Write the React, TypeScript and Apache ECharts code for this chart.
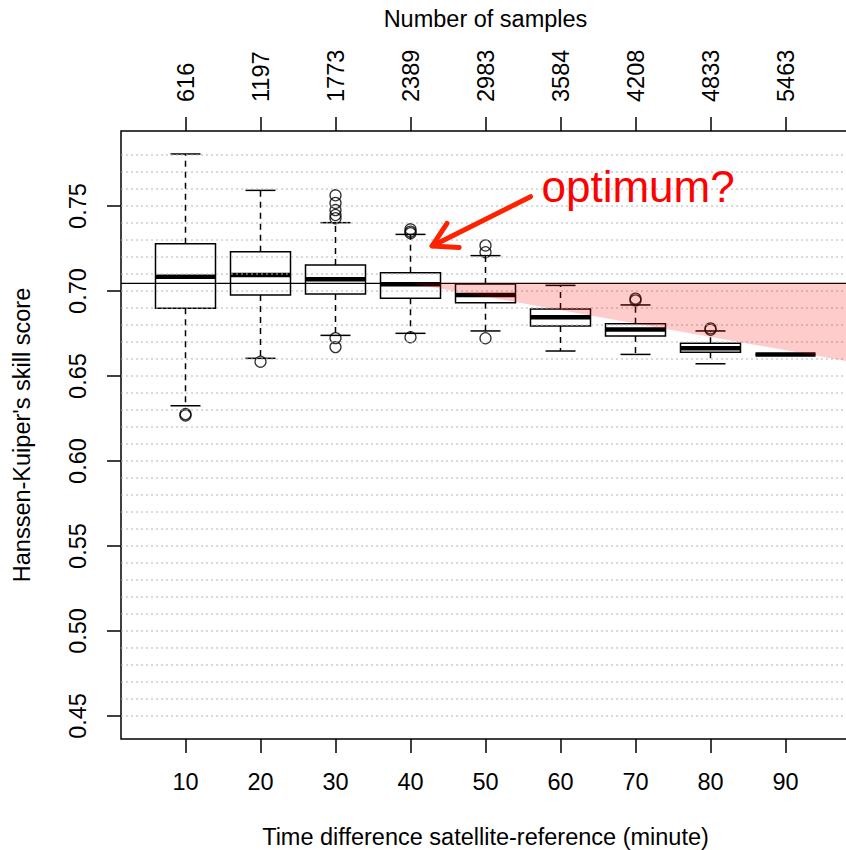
import React, { useEffect, useRef } from "react";
import * as echarts from "echarts";

// ---------------- data ----------------
const categories = ["10", "20", "30", "40", "50", "60", "70", "80", "90"];
const sampleCounts = ["616", "1197", "1773", "2389", "2983", "3584", "4208", "4833", "5463"];
const lowerWhisker = [0.6325, 0.6604, 0.6739, 0.6751, 0.6765, 0.6647, 0.6627, 0.6572, 0.6627];
const lowerQuartile = [0.6898, 0.6976, 0.6982, 0.6957, 0.6931, 0.6794, 0.6735, 0.6639, 0.6627];
const medians = [0.7084, 0.7094, 0.7069, 0.7039, 0.6976, 0.6845, 0.6773, 0.6663, 0.6627];
const upperQuartile = [0.7278, 0.7231, 0.7153, 0.7108, 0.7041, 0.6894, 0.6808, 0.6692, 0.6627];
const upperWhisker = [0.7806, 0.7592, 0.7402, 0.7333, 0.7208, 0.7033, 0.6918, 0.6765, 0.6627];
const outliers = [
  [0.6276, 0.6268],
  [0.6584],
  [0.7563, 0.7518, 0.7476, 0.7447, 0.7428, 0.6723, 0.667],
  [0.7363, 0.7349, 0.7340, 0.6728],
  [0.7268, 0.7228, 0.6722],
  [],
  [0.6955, 0.6945],
  [0.678, 0.6772],
  [],
];
const yTickValues = [0.45, 0.5, 0.55, 0.6, 0.65, 0.7, 0.75];
const gridValues = [
  0.45, 0.46, 0.47, 0.48, 0.49, 0.5, 0.51, 0.52, 0.53, 0.54, 0.55, 0.56, 0.57, 0.58, 0.59,
  0.6, 0.61, 0.62, 0.63, 0.64, 0.65, 0.66, 0.67, 0.68, 0.69, 0.7, 0.71, 0.72, 0.73, 0.74,
  0.75, 0.76, 0.77, 0.78,
];
const referenceLevel = 0.7045;
const shadePoints = [
  [4, 0.7045],
  [10, 0.7045],
  [10, 0.6573],
];
const arrowTail = [5.6, 0.7555];
const arrowTip = [4.289, 0.7265];
const annotationPos = [5.747, 0.7612];
const annotationText = "optimum?";

// ---------------- layout / style ----------------
const X_MIN = 0.14;
const X_MAX = 9.86;
const Y_MIN = 0.43647;
const Y_MAX = 0.79412;
const BOX_HALF = 0.4;
const CAP_HALF = 0.2;
const FONT = "Liberation Sans, Arial, Helvetica, sans-serif";
const FS = 23.5;
const positions = categories.map((_, i) => i + 1);

export default function App() {
  const ref = useRef<HTMLDivElement>(null);

  useEffect(() => {
    if (!ref.current) return;
    const chart = echarts.init(ref.current, undefined, { renderer: "svg" });

    const boxData = positions.map((x, i) => [
      x,
      lowerWhisker[i],
      lowerQuartile[i],
      medians[i],
      upperQuartile[i],
      upperWhisker[i],
    ]);
    const outlierData: number[][] = [];
    outliers.forEach((list, i) => list.forEach((v) => outlierData.push([positions[i], v])));

    const seg = (a: number[], b: number[], style: any) => ({
      type: "line",
      shape: { x1: a[0], y1: a[1], x2: b[0], y2: b[1] },
      style,
    });

    const tickStyle = { color: "#000", width: 1.5 };
    const labelBase = { color: "#000", fontSize: FS, fontFamily: FONT };

    const option: any = {
      animation: false,
      backgroundColor: "#fff",
      grid: {
        left: 121,
        top: 131,
        width: 729,
        height: 608,
        show: true,
        borderColor: "#000",
        borderWidth: 1.5,
        backgroundColor: "transparent",
        containLabel: false,
        outerBoundsMode: "none",
      },
      xAxis: [
        {
          type: "value",
          position: "bottom",
          min: X_MIN,
          max: X_MAX,
          axisLine: { show: false },
          splitLine: { show: false },
          axisTick: { show: true, length: 14, lineStyle: tickStyle, customValues: positions },
          axisLabel: {
            ...labelBase,
            margin: 31,
            customValues: positions,
            formatter: (v: number) => categories[Math.round(v) - 1] ?? "",
          },
          name: "Time difference satellite-reference (minute)",
          nameLocation: "middle",
          nameGap: 86,
          nameTextStyle: labelBase,
        },
        {
          type: "value",
          position: "top",
          min: X_MIN,
          max: X_MAX,
          axisLine: { show: false },
          splitLine: { show: false },
          axisTick: { show: true, length: 14, lineStyle: tickStyle, customValues: positions },
          axisLabel: {
            ...labelBase,
            margin: 29,
            rotate: -90,
            customValues: positions,
            formatter: (v: number) => sampleCounts[Math.round(v) - 1] ?? "",
          },
          name: "Number of samples",
          nameLocation: "middle",
          nameGap: 100,
          nameTextStyle: labelBase,
        },
      ],
      yAxis: {
        type: "value",
        min: Y_MIN,
        max: Y_MAX,
        axisLine: { show: false },
        splitLine: { show: false },
        axisTick: { show: true, length: 14, lineStyle: tickStyle, customValues: yTickValues },
        axisLabel: {
          ...labelBase,
          margin: 31,
          rotate: 90,
          customValues: yTickValues,
          formatter: (v: number) => v.toFixed(2),
        },
        name: "Hanssen-Kuiper's skill score",
        nameLocation: "middle",
        nameGap: 87,
        nameTextStyle: labelBase,
      },
      series: [
        {
          // dotted horizontal grid
          type: "custom",
          z: 3,
          silent: true,
          data: gridValues.map((v) => [1, v]),
          encode: { x: 0, y: 1 },
          renderItem: (params: any, api: any) => {
            const cs = params.coordSys;
            const y = api.coord([1, api.value(1)])[1];
            return seg([cs.x, y], [cs.x + cs.width, y], {
              stroke: "#b4b4b4",
              lineWidth: 1,
              lineDash: [2, 3],
            });
          },
        },
        {
          // box plots
          type: "custom",
          z: 2,
          silent: true,
          data: boxData,
          encode: { x: 0, y: [1, 2, 3, 4, 5] },
          renderItem: (params: any, api: any) => {
            const x = api.value(0);
            const lo = api.value(1);
            const q1 = api.value(2);
            const md = api.value(3);
            const q3 = api.value(4);
            const hi = api.value(5);
            const p = (xx: number, yy: number) => api.coord([xx, yy]);
            const solid = { stroke: "#000", lineWidth: 1.5 };
            const dashed = { stroke: "#000", lineWidth: 1.5, lineDash: [6, 5] };
            const tl = p(x - BOX_HALF, q3);
            const br = p(x + BOX_HALF, q1);
            return {
              type: "group",
              children: [
                seg(p(x, q3), p(x, hi), dashed),
                seg(p(x, q1), p(x, lo), dashed),
                seg(p(x - CAP_HALF, hi), p(x + CAP_HALF, hi), solid),
                seg(p(x - CAP_HALF, lo), p(x + CAP_HALF, lo), solid),
                {
                  type: "rect",
                  shape: { x: tl[0], y: tl[1], width: br[0] - tl[0], height: br[1] - tl[1] },
                  style: { stroke: "#000", lineWidth: 1.5, fill: "rgba(0,0,0,0)" },
                },
                seg(p(x - BOX_HALF, md), p(x + BOX_HALF, md), {
                  stroke: "#000",
                  lineWidth: 4.5,
                  lineCap: "butt",
                }),
              ],
            };
          },
        },
        {
          type: "scatter",
          z: 2,
          silent: true,
          symbol: "circle",
          symbolSize: 11,
          data: outlierData,
          itemStyle: { color: "rgba(0,0,0,0)", borderColor: "#000", borderWidth: 1.3 },
        },
        {
          // reference level
          type: "custom",
          z: 4,
          silent: true,
          data: [[1, referenceLevel]],
          encode: { x: 0, y: 1 },
          renderItem: (params: any, api: any) => {
            const cs = params.coordSys;
            const y = api.coord([1, api.value(1)])[1];
            return seg([cs.x, y], [cs.x + cs.width, y], { stroke: "#000", lineWidth: 1.3 });
          },
        },
        {
          // shaded area
          type: "custom",
          z: 5,
          silent: true,
          data: [[shadePoints[0][0], shadePoints[0][1]]],
          encode: { x: 0, y: 1 },
          renderItem: (params: any, api: any) => ({
            type: "polygon",
            shape: { points: shadePoints.map((pt) => api.coord(pt)) },
            style: { fill: "rgba(255,0,0,0.2)", stroke: "none" },
          }),
        },
        {
          // annotation arrow + text
          type: "custom",
          z: 6,
          silent: true,
          data: [[arrowTip[0], arrowTip[1]]],
          encode: { x: 0, y: 1 },
          renderItem: (params: any, api: any) => {
            const tip = api.coord(arrowTip);
            const tail = api.coord(arrowTail);
            const ang = Math.atan2(tail[1] - tip[1], tail[0] - tip[0]);
            const L = 27;
            const sp = Math.PI / 6;
            const a1 = [tip[0] + L * Math.cos(ang - sp), tip[1] + L * Math.sin(ang - sp)];
            const a2 = [tip[0] + L * Math.cos(ang + sp), tip[1] + L * Math.sin(ang + sp)];
            const tp = api.coord(annotationPos);
            const red = "#ff2200";
            return {
              type: "group",
              children: [
                seg(tail, tip, { stroke: red, lineWidth: 5, lineCap: "round" }),
                {
                  type: "polyline",
                  shape: { points: [a1, tip, a2] },
                  style: { stroke: red, lineWidth: 5, lineCap: "round", lineJoin: "round", fill: "none" },
                },
                {
                  type: "text",
                  x: tp[0],
                  y: tp[1],
                  style: {
                    text: annotationText,
                    fill: "#ff0000",
                    fontSize: 44,
                    fontFamily: FONT,
                    align: "left",
                    verticalAlign: "middle",
                  },
                },
              ],
            };
          },
        },
      ],
    };

    chart.setOption(option);
    return () => chart.dispose();
  }, []);

  return (
    <div
      ref={ref}
      style={{ position: "fixed", left: 0, top: 0, width: 846, height: 850, background: "#fff" }}
    />
  );
}
